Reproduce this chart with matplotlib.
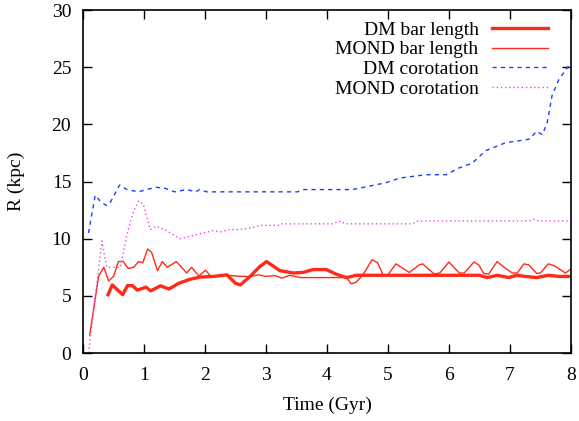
import matplotlib
matplotlib.use("Agg")
import matplotlib.pyplot as plt

plt.rcParams['font.family'] = ['Liberation Serif', 'DejaVu Serif']

# DM bar length
dm_bar_t = [0.41, 0.48, 0.57, 0.65, 0.73, 0.81, 0.89, 1.03, 1.11, 1.27, 1.41, 1.57, 1.76, 1.92,
            2.14, 2.36, 2.5, 2.58, 2.74, 2.9, 3.01, 3.23, 3.45, 3.61, 3.77, 3.99, 4.15, 4.32,
            4.48, 5.0, 6.0, 6.5, 6.63, 6.79, 6.98, 7.11, 7.25, 7.44, 7.63, 7.8, 7.99]
dm_bar_r = [5.1, 5.96, 5.5, 5.1, 5.9, 5.9, 5.5, 5.76, 5.44, 5.88, 5.6, 6.1, 6.46, 6.64,
            6.7, 6.84, 6.1, 5.96, 6.7, 7.57, 8.0, 7.2, 7.0, 7.05, 7.3, 7.3, 6.9, 6.6,
            6.8, 6.8, 6.8, 6.8, 6.6, 6.8, 6.6, 6.8, 6.7, 6.6, 6.8, 6.7, 6.7]

# MOND bar length
mond_bar_t = [0.11, 0.255, 0.34, 0.42, 0.5, 0.58, 0.66, 0.74, 0.83, 0.91, 0.98, 1.06, 1.125,
              1.22, 1.3, 1.38, 1.53, 1.7, 1.78, 1.9, 2.01, 2.09, 2.35, 2.6, 2.74, 2.88, 2.99,
              3.15, 3.26, 3.39, 3.56, 4.32, 4.4, 4.48, 4.59, 4.74, 4.83, 4.92, 5.0, 5.13, 5.35,
              5.51, 5.57, 5.76, 5.85, 6.0, 6.17, 6.25, 6.41, 6.49, 6.57, 6.65, 6.79, 6.93, 7.04,
              7.12, 7.23, 7.31, 7.44, 7.5, 7.63, 7.74, 7.91, 7.99]
mond_bar_r = [1.6, 6.7, 7.5, 6.3, 6.7, 8.0, 8.0, 7.4, 7.5, 8.0, 7.9, 9.1, 8.8,
              7.2, 8.0, 7.5, 8.0, 7.0, 7.5, 6.73, 7.25, 6.73, 6.8, 6.7, 6.7, 6.84, 6.7,
              6.77, 6.55, 6.8, 6.6, 6.6, 6.05, 6.2, 6.84, 8.16, 7.9, 6.84, 6.84, 7.8, 7.05,
              7.7, 7.8, 6.9, 7.0, 7.96, 7.0, 7.0, 7.96, 7.7, 6.96, 6.9, 8.0, 7.4, 7.0,
              7.0, 7.8, 7.7, 6.96, 7.0, 7.8, 7.6, 7.0, 7.3]

# DM corotation
dm_cr_t = [0.09, 0.2, 0.28, 0.38, 0.45, 0.6, 0.72, 0.91, 1.04, 1.2, 1.35, 1.5, 1.7, 1.85,
           1.91, 2.03, 3.52, 3.6, 4.42, 4.97, 5.19, 5.62, 5.95, 6.17, 6.38, 6.6, 6.93,
           7.31, 7.44, 7.53, 7.61, 7.69, 7.8, 7.96]
dm_cr_r = [10.5, 13.8, 13.3, 12.9, 13.2, 14.7, 14.3, 14.1, 14.3, 14.5, 14.4, 14.1, 14.3, 14.1,
           14.3, 14.1, 14.1, 14.3, 14.3, 14.9, 15.3, 15.6, 15.6, 16.2, 16.6, 17.7, 18.4,
           18.7, 19.4, 19.1, 20.1, 22.5, 23.9, 25.1]

# MOND corotation
mond_cr_t = [0.09, 0.31, 0.39, 0.5, 0.61, 0.74, 0.83, 0.91, 0.99, 1.1, 1.2, 1.37, 1.59, 1.75,
             1.97, 2.13, 2.25, 2.4, 2.57, 2.74, 2.85, 2.9, 3.23, 3.26, 4.1, 4.18, 4.25, 4.29,
             5.4, 5.49, 7.31, 7.39, 7.47, 8.0]
mond_cr_r = [0.0, 9.8, 7.5, 7.5, 7.5, 10.8, 12.4, 13.3, 13.0, 10.8, 11.1, 10.7, 10.0, 10.2,
             10.5, 10.7, 10.6, 10.8, 10.8, 10.94, 11.08, 11.17, 11.17, 11.3, 11.3, 11.5, 11.5, 11.3,
             11.3, 11.55, 11.55, 11.7, 11.55, 11.55]

labels = ["DM bar length", "MOND bar length", "DM corotation", "MOND corotation"]
xticks = [0, 1, 2, 3, 4, 5, 6, 7, 8]
yticks = [0, 5, 10, 15, 20, 25, 30]

fig = plt.figure(figsize=(5.79, 4.21), dpi=100)
ax = fig.add_axes([0.1434, 0.1615, 0.8426, 0.8145])

red = '#ff2a1a'
ax.plot(dm_bar_t, dm_bar_r, color=red, lw=2.4, label=labels[0])
ax.plot(mond_bar_t, mond_bar_r, color=red, lw=1.0, label=labels[1])
ax.plot(dm_cr_t, dm_cr_r, color='#1f3cff', lw=1.0, dashes=(3, 3), label=labels[2])
ax.plot(mond_cr_t, mond_cr_r, color='#ee44ee', lw=1.0, dashes=(1, 2), label=labels[3])

ax.set_xlim(0, 8)
ax.set_ylim(0, 30)
ax.set_xticks(xticks)
ax.set_yticks(yticks)
ax.tick_params(direction='in', length=6.5, width=1, top=True, right=True, labelsize=14)
ax.tick_params(axis='x', pad=10)
ax.tick_params(axis='y', pad=8.5)
for s in ax.spines.values():
    s.set_linewidth(1.2)
ax.set_xlabel("Time (Gyr)", fontsize=14, labelpad=9)
ax.set_ylabel("R (kpc)", fontsize=14, labelpad=19)

ax.legend(loc='upper right', frameon=False, markerfirst=False, fontsize=14,
          handlelength=2.9, labelspacing=0.1, borderaxespad=0.0, handletextpad=0.67,
          bbox_to_anchor=(0.969, 0.99))

fig.savefig("out.png", dpi=100)
